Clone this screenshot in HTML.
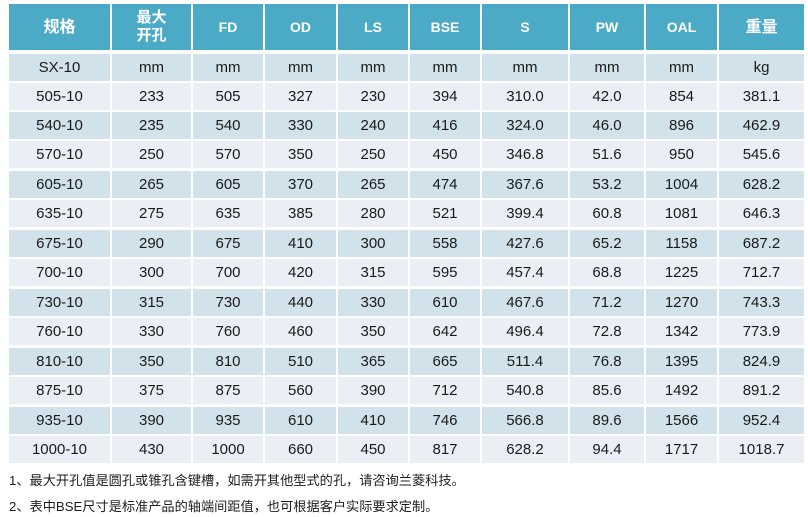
<!DOCTYPE html>
<html><head><meta charset="utf-8">
<style>
html,body{margin:0;padding:0;background:#fff;}
body{width:808px;height:517px;position:relative;overflow:hidden;font-family:"Liberation Sans","Noto Sans CJK SC",sans-serif;}
.r{position:absolute;left:9px;height:27px;display:flex;}
.r div{height:100%;display:flex;align-items:center;justify-content:center;margin-left:2px;font-size:15px;color:#1a1a1a;white-space:nowrap;}
.r div:first-child{margin-left:0;}
.r div:nth-child(1){width:101px}.r div:nth-child(2){width:79px}.r div:nth-child(3){width:70px}.r div:nth-child(4){width:71px}.r div:nth-child(5){width:70px}.r div:nth-child(6){width:70px}.r div:nth-child(7){width:86px}.r div:nth-child(8){width:74px}.r div:nth-child(9){width:71px}.r div:nth-child(10){width:85px}
.d div{background:#d1e2eb;}
.l div{background:#e9eff5;}
.h{top:4px;height:46px;}
.h div{background:#4babc7;color:#fff;font-weight:bold;font-size:14px;line-height:17px;text-align:center;}
.h div.cj{font-size:16px;}
.note{position:absolute;left:9px;font-size:13.2px;color:#1e1e1e;font-family:"Liberation Sans","Noto Sans CJK SC",sans-serif;white-space:nowrap;}
</style></head><body>
<div class="r h"><div class="cj">规格</div><div class="cj" style="font-size:15px;line-height:18px">最大<br>开孔</div><div>FD</div><div>OD</div><div>LS</div><div>BSE</div><div>S</div><div>PW</div><div>OAL</div><div class="cj">重量</div></div>
<div class="r d" style="top:54px"><div>SX-10</div><div>mm</div><div>mm</div><div>mm</div><div>mm</div><div>mm</div><div>mm</div><div>mm</div><div>mm</div><div>kg</div></div>
<div class="r l" style="top:83px"><div>505-10</div><div>233</div><div>505</div><div>327</div><div>230</div><div>394</div><div>310.0</div><div>42.0</div><div>854</div><div>381.1</div></div>
<div class="r d" style="top:112px"><div>540-10</div><div>235</div><div>540</div><div>330</div><div>240</div><div>416</div><div>324.0</div><div>46.0</div><div>896</div><div>462.9</div></div>
<div class="r l" style="top:141px"><div>570-10</div><div>250</div><div>570</div><div>350</div><div>250</div><div>450</div><div>346.8</div><div>51.6</div><div>950</div><div>545.6</div></div>
<div class="r d" style="top:171px"><div>605-10</div><div>265</div><div>605</div><div>370</div><div>265</div><div>474</div><div>367.6</div><div>53.2</div><div>1004</div><div>628.2</div></div>
<div class="r l" style="top:200px"><div>635-10</div><div>275</div><div>635</div><div>385</div><div>280</div><div>521</div><div>399.4</div><div>60.8</div><div>1081</div><div>646.3</div></div>
<div class="r d" style="top:230px"><div>675-10</div><div>290</div><div>675</div><div>410</div><div>300</div><div>558</div><div>427.6</div><div>65.2</div><div>1158</div><div>687.2</div></div>
<div class="r l" style="top:259px"><div>700-10</div><div>300</div><div>700</div><div>420</div><div>315</div><div>595</div><div>457.4</div><div>68.8</div><div>1225</div><div>712.7</div></div>
<div class="r d" style="top:289px"><div>730-10</div><div>315</div><div>730</div><div>440</div><div>330</div><div>610</div><div>467.6</div><div>71.2</div><div>1270</div><div>743.3</div></div>
<div class="r l" style="top:318px"><div>760-10</div><div>330</div><div>760</div><div>460</div><div>350</div><div>642</div><div>496.4</div><div>72.8</div><div>1342</div><div>773.9</div></div>
<div class="r d" style="top:348px"><div>810-10</div><div>350</div><div>810</div><div>510</div><div>365</div><div>665</div><div>511.4</div><div>76.8</div><div>1395</div><div>824.9</div></div>
<div class="r l" style="top:377px"><div>875-10</div><div>375</div><div>875</div><div>560</div><div>390</div><div>712</div><div>540.8</div><div>85.6</div><div>1492</div><div>891.2</div></div>
<div class="r d" style="top:407px"><div>935-10</div><div>390</div><div>935</div><div>610</div><div>410</div><div>746</div><div>566.8</div><div>89.6</div><div>1566</div><div>952.4</div></div>
<div class="r l" style="top:436px"><div>1000-10</div><div>430</div><div>1000</div><div>660</div><div>450</div><div>817</div><div>628.2</div><div>94.4</div><div>1717</div><div>1018.7</div></div>
<div class="note" style="top:470px">1、最大开孔值是圆孔或锥孔含键槽，如需开其他型式的孔，请咨询兰菱科技。</div>
<div class="note" style="top:496px">2、表中BSE尺寸是标准产品的轴端间距值，也可根据客户实际要求定制。</div>
</body></html>
